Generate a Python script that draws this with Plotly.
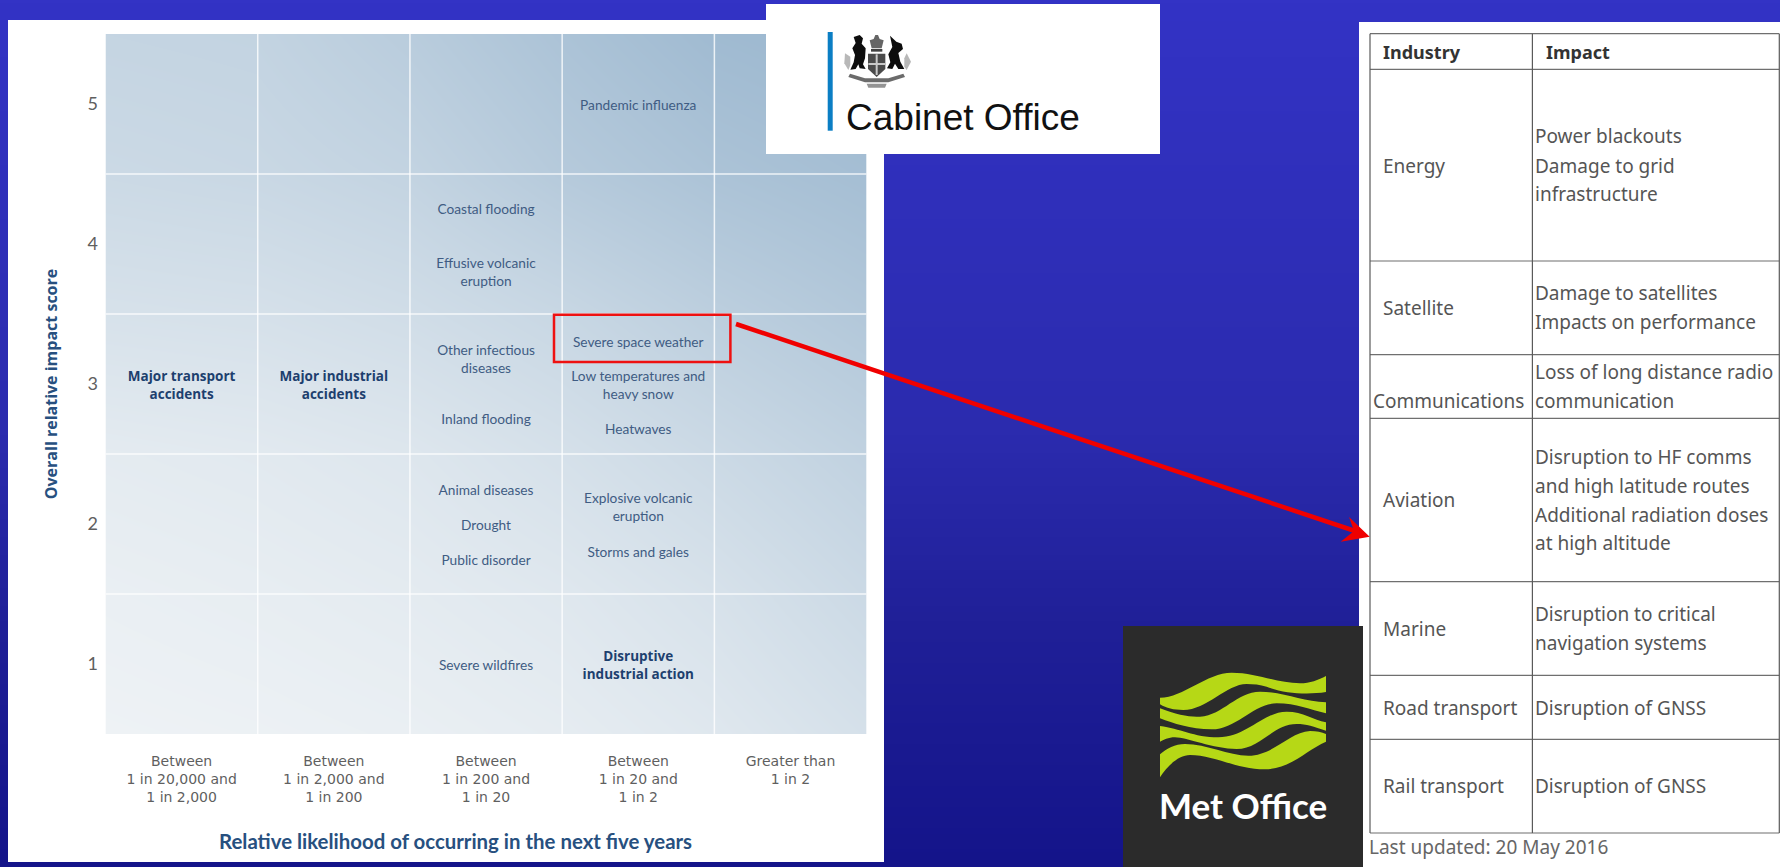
import numpy as np
import plotly.graph_objects as go

W, H = 1780, 867

# ---------- data ----------
LIKELIHOOD = ["Between<br>1 in 20,000 and<br>1 in 2,000", "Between<br>1 in 2,000 and<br>1 in 200",
              "Between<br>1 in 200 and<br>1 in 20", "Between<br>1 in 20 and<br>1 in 2", "Greater than<br>1 in 2"]
IMPACT_SCORES = [1, 2, 3, 4, 5]
X_TITLE = "Relative likelihood of occurring in the next five years"
Y_TITLE = "Overall relative impact score"

RISK_NAMES = ["Pandemic influenza", "Coastal flooding", "Effusive volcanic<br>eruption", "Severe space weather",
              "Other infectious<br>diseases", "Low temperatures and<br>heavy snow", "Heatwaves", "Inland flooding",
              "Animal diseases", "Drought", "Public disorder", "Explosive volcanic<br>eruption",
              "Storms and gales", "Severe wildfires"]
RISK_COL = [3, 2, 2, 3, 2, 3, 3, 2, 2, 2, 2, 3, 3, 2]
RISK_SCORE = [4.98, 4.24, 3.79, 3.29, 3.17, 2.98, 2.67, 2.74, 2.23, 1.98, 1.73, 2.11, 1.79, 0.98]

MAJOR_NAMES = ["Major transport<br>accidents", "Major industrial<br>accidents", "Disruptive<br>industrial action"]
MAJOR_COL = [0, 1, 3]
MAJOR_SCORE = [2.98, 2.98, 0.98]

# shading of the matrix at its cell corners (bottom row first)
SHADE = [[0.00, 0.02, 0.05, 0.10, 0.18, 0.30],
         [0.05, 0.08, 0.12, 0.18, 0.28, 0.42],
         [0.12, 0.15, 0.20, 0.30, 0.42, 0.55],
         [0.28, 0.30, 0.36, 0.46, 0.60, 0.72],
         [0.42, 0.45, 0.52, 0.68, 0.80, 0.88],
         [0.50, 0.52, 0.64, 0.80, 0.94, 1.00]]

TABLE_HEAD = ["Industry", "Impact"]
INDUSTRIES = ["Energy", "Satellite", "Communications", "Aviation", "Marine", "Road transport", "Rail transport"]
IMPACTS = [["Power blackouts", "Damage to grid", "infrastructure"],
           ["Damage to satellites", "Impacts on performance"],
           ["Loss of long distance radio", "communication"],
           ["Disruption to HF comms", "and high latitude routes", "Additional radiation doses", "at high altitude"],
           ["Disruption to critical", "navigation systems"],
           ["Disruption of GNSS"],
           ["Disruption of GNSS"]]
TABLE_NOTE = "Last updated: 20 May 2016"

# ---------- layout constants (pixels of the page) ----------
GX0, GX1, GY0, GY1 = 105.5, 866.6, 34, 734
IND_X = [1382, 1382, 1372, 1382, 1382, 1382, 1382]
IND_Y = [166, 308, 400.7, 500, 629, 707.7, 785.7]
IMP_Y = [[135.7, 165.7, 194], [293.3, 322], [371.7, 400.7], [457.3, 486, 515, 543.3], [614, 642.7], [707.7], [785.7]]
T_ROWS = [33.7, 69.3, 261, 354.7, 418.3, 581.7, 675.3, 739.3, 833]
T_COLS = [1370, 1532.4, 1779.3]
BG_STOPS_Y = [0, 433, 620, 867]
BG_R = [0x33, 0x2b, 0x20, 0x14]
BG_B = [0xc5, 0xae, 0x98, 0x8a]

px = lambda x: x / W
py = lambda y: 1 - y / H


def rect(x0, y0, x1, y1, fill, layer="above", line=None):
    return dict(type="rect", xref="paper", yref="paper", x0=px(x0), x1=px(x1), y0=py(y0), y1=py(y1),
                fillcolor=fill, layer=layer, line=line or dict(width=0))


def seg(x0, y0, x1, y1, color, width, layer="above"):
    return dict(type="line", xref="paper", yref="paper", x0=px(x0), x1=px(x1), y0=py(y0), y1=py(y1),
                line=dict(color=color, width=width), layer=layer)


def svg(cmds, fill, ox=0.0, oy=0.0, k=1.0, opacity=1.0):
    """cmds: list of (letter, [x, y, x, y...]) in local pixels; each segment is written as its own command."""
    out = []
    for c, pts in cmds:
        step = {"M": 2, "L": 2, "C": 6}[c]
        for s in range(0, len(pts), step):
            chunk = pts[s:s + step]
            vals = [f"{px(ox + chunk[i] * k):.5f},{py(oy + chunk[i + 1] * k):.5f}" for i in range(0, step, 2)]
            out.append(c + " ".join(vals))
    return dict(type="path", xref="paper", yref="paper", path=" ".join(out) + " Z", fillcolor=fill,
                line=dict(width=0), layer="above", opacity=opacity)


shapes = []
# page background
for y in range(0, H, 3):
    r = int(np.interp(y, BG_STOPS_Y, BG_R))
    b = int(np.interp(y, BG_STOPS_Y, BG_B))
    shapes.append(rect(0, y, W, y + 3, f"rgb({r},{r},{b})", layer="below"))
# white panels
shapes.append(rect(8, 20, 884, 862, "#ffffff", layer="below"))
shapes.append(rect(1359, 22, W, H, "#ffffff", layer="below"))

# matrix cell dividers, on the chart's own axes
for v in [0.5, 1.5, 2.5, 3.5]:
    shapes.append(dict(type="line", xref="x", yref="y", x0=v, x1=v, y0=0.5, y1=5.5,
                       line=dict(color="rgba(255,255,255,0.8)", width=1.5), layer="above"))
for v in [1.5, 2.5, 3.5, 4.5]:
    shapes.append(dict(type="line", xref="x", yref="y", x0=-0.5, x1=4.5, y0=v, y1=v,
                       line=dict(color="rgba(255,255,255,0.8)", width=1.5), layer="above"))

# table rules
for y in T_ROWS:
    shapes.append(seg(T_COLS[0], y, T_COLS[2], y, "#6f6f6f", 1.2))
for x in T_COLS:
    shapes.append(seg(x, T_ROWS[0], x, T_ROWS[-1], "#5a5a5a", 1.2))

# Cabinet Office logo
shapes.append(rect(766, 4, 1160, 154, "#ffffff"))
shapes.append(rect(827.7, 32, 832.7, 130.7, "#0b7ec4"))
CX, CY, CK = 835, 25, 1 / 3
shapes += [
    # lion
    svg([("M", [56, 36]), ("L", [74, 30, 84, 40, 80, 56, 92, 70, 90, 100, 84, 118, 92, 132, 74, 130, 70, 118, 62, 132, 46, 134, 56, 112, 60, 90, 52, 70, 62, 54])], "#0d0d0d", CX, CY, CK),
    # unicorn
    svg([("M", [165, 32]), ("L", [184, 50, 200, 56, 204, 72, 190, 84, 196, 110, 208, 132, 190, 132, 180, 116, 172, 132, 156, 130, 166, 112, 160, 88, 172, 66])], "#0d0d0d", CX, CY, CK),
    # crown and helm
    svg([("M", [110, 70]), ("L", [104, 46, 116, 42, 121, 30, 129, 30, 134, 42, 146, 46, 140, 70])], "#4a4a4a", CX, CY, CK, 0.85),
    svg([("M", [108, 72]), ("L", [142, 72, 142, 80, 108, 80])], "#111111", CX, CY, CK, 0.8),
    # shield
    svg([("M", [99, 86]), ("L", [151, 86, 151, 132, 125, 156, 99, 132])], "#2b2b2b", CX, CY, CK, 0.85),
    svg([("M", [122, 88]), ("L", [128, 88, 128, 150, 122, 150])], "#c9c9c9", CX, CY, CK),
    svg([("M", [100, 114]), ("L", [150, 114, 150, 120, 100, 120])], "#c9c9c9", CX, CY, CK),
    # foliage at the sides
    svg([("M", [30, 85]), ("L", [46, 95, 46, 120, 40, 135, 28, 115])], "#888888", CX, CY, CK, 0.6),
    svg([("M", [215, 85]), ("L", [228, 110, 215, 135, 208, 125, 208, 100])], "#888888", CX, CY, CK, 0.6),
    # motto ribbon
    svg([("M", [45, 146]), ("L", [90, 160, 160, 160, 205, 146, 210, 156, 160, 172, 90, 172, 40, 156])], "#3a3a3a", CX, CY, CK, 0.75),
    svg([("M", [95, 176]), ("L", [155, 176, 150, 188, 100, 188])], "#666666", CX, CY, CK, 0.7),
]

# Met Office logo
shapes.append(rect(1123, 626, 1363, 867, "#2b2b2b"))
MX, MY, MK = 1150, 660, 1 / 3
LIME = "#b6d816"
shapes += [
    svg([("M", [30, 113]), ("C", [100, 113, 170, 38, 245, 38, 320, 38, 380, 70, 450, 70, 480, 70, 505, 60, 528, 48]),
         ("L", [528, 96]), ("C", [470, 105, 400, 100, 350, 80, 330, 74, 310, 72, 290, 72, 230, 72, 170, 150, 100, 150, 70, 150, 50, 145, 30, 133])], LIME, MX, MY, MK),
    svg([("M", [30, 145]), ("C", [80, 165, 120, 172, 150, 170, 220, 165, 260, 95, 330, 95, 400, 95, 460, 125, 528, 127]),
         ("L", [528, 160]), ("C", [480, 150, 440, 130, 380, 130, 310, 130, 260, 208, 185, 208, 120, 208, 70, 190, 30, 175])], LIME, MX, MY, MK),
    svg([("M", [30, 198]), ("C", [90, 205, 130, 232, 205, 232, 290, 232, 340, 155, 410, 155, 460, 155, 490, 180, 528, 187]),
         ("L", [528, 212]), ("C", [490, 200, 470, 192, 440, 192, 370, 192, 330, 267, 260, 267, 190, 267, 110, 232, 75, 232, 55, 232, 40, 240, 30, 245])], LIME, MX, MY, MK),
    svg([("M", [30, 283]), ("C", [50, 265, 75, 252, 105, 252, 170, 252, 235, 287, 295, 287, 370, 287, 420, 215, 480, 213, 500, 213, 515, 216, 528, 222]),
         ("L", [528, 245]), ("C", [470, 270, 420, 328, 345, 328, 260, 328, 190, 285, 120, 285, 85, 285, 50, 320, 30, 352])], LIME, MX, MY, MK),
]

# red highlight box and arrow
shapes.append(rect(554, 314.7, 730.4, 362, "rgba(0,0,0,0)", line=dict(color="#ee1111", width=2.5)))
shapes.append(seg(736, 324, 1358, 532, "#f00000", 4.5))
shapes.append(svg([("M", [1369.7, 536.7]), ("L", [1349, 517, 1354, 531, 1340.7, 541.7])], "#f00000"))

annotations = []


def label(x, y, text, size, color, font, anchor="left", **kw):
    annotations.append(dict(x=px(x), y=py(y), xref="paper", yref="paper", text=text, showarrow=False,
                            xanchor=anchor, yanchor="middle", borderpad=0,
                            font=dict(size=size, color=color, family=font), **kw))


TABLE_FONT = "Noto Sans"
label(1382, 51.7, "<b>" + TABLE_HEAD[0] + "</b>", 18, "#333333", TABLE_FONT)
label(1544.7, 51.7, "<b>" + TABLE_HEAD[1] + "</b>", 18, "#333333", TABLE_FONT)
for name, x, y in zip(INDUSTRIES, IND_X, IND_Y):
    label(x, y, name, 19, "#555555", TABLE_FONT)
for lines, ys in zip(IMPACTS, IMP_Y):
    for line, y in zip(lines, ys):
        label(1533.7, y, line, 19, "#555555", TABLE_FONT)
label(1368, 847, TABLE_NOTE, 19, "#666666", TABLE_FONT)
label(845, 117, "Cabinet Office", 37, "#111111", "Liberation Sans")
label(1243, 805, "<b>Met Office</b>", 35, "#ffffff", "Lato", anchor="center")
label((219 + 692) / 2, 840.7, "<b>" + X_TITLE + "</b>", 20.4, "#27507f", "Lato", anchor="center")

fig = go.Figure()
fig.add_trace(go.Heatmap(x=[-0.5, 0.5, 1.5, 2.5, 3.5, 4.5], y=[0.5, 1.5, 2.5, 3.5, 4.5, 5.5], z=SHADE,
                         zmin=0, zmax=1, zsmooth="best", showscale=False, hoverinfo="skip",
                         colorscale=[[0, "#eef2f5"], [1, "#9bb7cf"]]))
fig.add_trace(go.Scatter(x=RISK_COL, y=RISK_SCORE, text=RISK_NAMES, mode="text", showlegend=False,
                         textposition="middle center", hoverinfo="skip",
                         textfont=dict(family="Lato", size=13.7, color="#3f5c83")))
fig.add_trace(go.Scatter(x=MAJOR_COL, y=MAJOR_SCORE, text=["<b>" + m + "</b>" for m in MAJOR_NAMES], mode="text",
                         showlegend=False, textposition="middle center", hoverinfo="skip",
                         textfont=dict(family="Open Sans", size=13.5, color="#1d3f6e")))

fig.update_layout(
    width=W, height=H, margin=dict(l=0, r=0, t=0, b=0), paper_bgcolor="#2b2bae", plot_bgcolor="rgba(0,0,0,0)",
    showlegend=False, shapes=shapes, annotations=annotations,
    xaxis=dict(domain=[px(GX0), px(GX1)], range=[-0.5, 4.5], tickvals=[0, 1, 2, 3, 4], ticktext=LIKELIHOOD,
               showgrid=False, zeroline=False, showline=False, ticks="outside", ticklen=14,
               tickcolor="rgba(0,0,0,0)", tickfont=dict(family="DejaVu Sans", size=14, color="#5f5f5f"), fixedrange=True),
    yaxis=dict(domain=[py(GY1), py(GY0)], range=[0.5, 5.5], tickvals=IMPACT_SCORES,
               showgrid=False, zeroline=False, showline=False, ticks="outside", ticklen=3,
               tickcolor="rgba(0,0,0,0)", tickfont=dict(family="Lato", size=18, color="#5f5f5f"), fixedrange=True,
               title=dict(text="<b>" + Y_TITLE + "</b>", standoff=25,
                          font=dict(family="Open Sans", size=16, color="#27507f"))),
)

fig.write_html("out.html", config=dict(displayModeBar=False),
               post_script="document.body.style.margin='0';document.documentElement.style.overflow='hidden';")
